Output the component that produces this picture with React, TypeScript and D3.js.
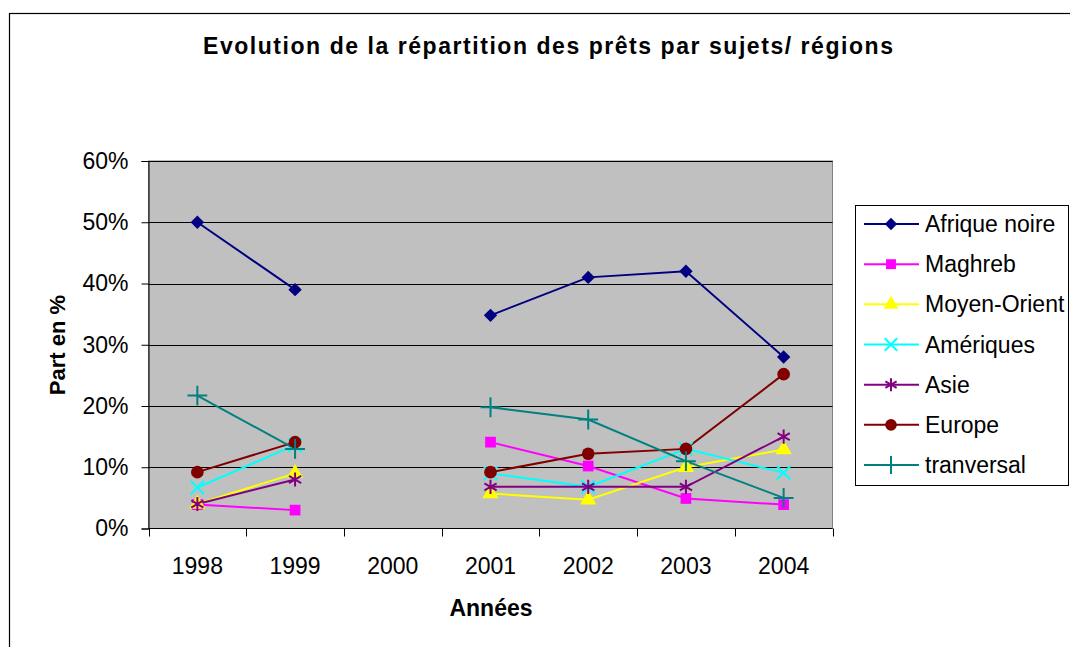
import React, { useEffect, useRef } from 'react';
import * as d3 from 'd3';

const years = ['1998', '1999', '2000', '2001', '2002', '2003', '2004'];
const afriqueNoire = [50, 39, null, 34.8, 41, 42, 28];
const maghreb = [3.9, 3, null, 14.1, 10.2, 4.9, 3.9];
const moyenOrient = [4, 9, null, 5.7, 4.7, 10, 12.9];
const ameriques = [6.7, 13.6, null, 9, 6.8, 13, 9.1];
const asie = [4, 8, null, 6.8, 6.8, 6.8, 15];
const europe = [9.2, 14.1, null, 9.2, 12.2, 13, 25.2];
const tranversal = [21.7, 13, null, 19.8, 17.8, 11, 5];
const yTicks = [0, 10, 20, 30, 40, 50, 60];

// square turned 45 degrees, as Excel draws its diamond marker
const wideDiamond = {
  draw(context: any, size: number) {
    const r = Math.sqrt(size / 2);
    context.moveTo(0, -r);
    context.lineTo(r, 0);
    context.lineTo(0, r);
    context.lineTo(-r, 0);
    context.closePath();
  },
};

const series = [
  { name: 'Afrique noire', values: afriqueNoire, color: '#000080', symbol: wideDiamond, size: 90, fill: true },
  { name: 'Maghreb', values: maghreb, color: '#FF00FF', symbol: d3.symbolSquare, size: 115, fill: true },
  { name: 'Moyen-Orient', values: moyenOrient, color: '#FFFF00', symbol: d3.symbolTriangle, size: 115, fill: true },
  { name: 'Amériques', values: ameriques, color: '#00FFFF', symbol: d3.symbolX, size: 120, fill: false },
  { name: 'Asie', values: asie, color: '#800080', symbol: d3.symbolAsterisk, size: 140, fill: false },
  { name: 'Europe', values: europe, color: '#800000', symbol: d3.symbolCircle, size: 125, fill: true },
  { name: 'tranversal', values: tranversal, color: '#008080', symbol: d3.symbolPlus, size: 130, fill: false },
];

const font = '"Liberation Sans", Arial, sans-serif';

const App = () => {
  const svgRef = useRef<SVGSVGElement>(null);

  useEffect(() => {
    drawChart();
  }, []);

  const drawChart = () => {
    const svg = d3.select(svgRef.current);
    svg.selectAll('*').remove();

    const plot = { left: 148.5, right: 832.5, top: 161, bottom: 528.5 };

    // outer chart border
    svg.append('rect')
      .attr('x', 9.5).attr('y', 13.5)
      .attr('width', 1100).attr('height', 700)
      .attr('fill', '#fff').attr('stroke', '#000').attr('stroke-width', 1.2);

    const x = d3.scaleBand().domain(years).range([plot.left, plot.right]).padding(0);
    const cx = (d: string) => (x(d) as number) + x.bandwidth() / 2;
    const y = d3.scaleLinear().domain([0, 60]).range([plot.bottom, plot.top]);

    svg.append('rect')
      .attr('x', plot.left).attr('y', plot.top)
      .attr('width', plot.right - plot.left).attr('height', plot.bottom - plot.top)
      .attr('fill', '#C0C0C0').attr('stroke', '#808080');

    // gridlines
    svg.append('g')
      .selectAll('line')
      .data(yTicks.filter(t => t > 0))
      .enter()
      .append('line')
      .attr('x1', plot.left).attr('x2', plot.right)
      .attr('y1', d => Math.round(y(d)) + 0.5).attr('y2', d => Math.round(y(d)) + 0.5)
      .attr('stroke', '#000').attr('stroke-width', 1);

    // y axis
    const yAxis = svg.append('g')
      .attr('transform', `translate(${plot.left},0)`)
      .call(d3.axisLeft(y).tickValues(yTicks).tickSize(7).tickPadding(13).tickFormat(d => `${d}%`));
    yAxis.select('.domain').attr('stroke', '#000');
    yAxis.selectAll('text').attr('font-family', font).attr('font-size', 23).attr('fill', '#000');

    // x axis with ticks between categories
    const xAxisG = svg.append('g').attr('transform', `translate(0,${plot.bottom})`);
    xAxisG.append('line')
      .attr('x1', plot.left).attr('x2', plot.right)
      .attr('stroke', '#000');
    const bounds = years.map(d => x(d) as number).concat([plot.right]);
    xAxisG.selectAll('line.tick')
      .data(bounds)
      .enter()
      .append('line')
      .attr('class', 'tick')
      .attr('x1', d => Math.round(d) + 0.5).attr('x2', d => Math.round(d) + 0.5)
      .attr('y1', 0).attr('y2', 8)
      .attr('stroke', '#000');
    xAxisG.selectAll('text')
      .data(years)
      .enter()
      .append('text')
      .attr('x', d => cx(d))
      .attr('y', 45)
      .attr('text-anchor', 'middle')
      .attr('font-family', font).attr('font-size', 23)
      .text(d => d);

    // lines and markers
    const line = d3.line<number | null>()
      .defined(d => d != null)
      .x((d, i) => cx(years[i]))
      .y(d => y(d as number));

    series.forEach(s => {
      svg.append('path')
        .datum(s.values)
        .attr('fill', 'none')
        .attr('stroke', s.color)
        .attr('stroke-width', 2)
        .attr('d', line);
    });

    series.forEach(s => {
      const sym = d3.symbol().type(s.symbol as any).size(s.size);
      svg.append('g')
        .selectAll('path')
        .data(s.values.map((v, i) => ({ v, year: years[i] })).filter(d => d.v != null))
        .enter()
        .append('path')
        .attr('transform', d => `translate(${cx(d.year)},${y(d.v as number)})`)
        .attr('d', sym())
        .attr('fill', s.fill ? s.color : 'none')
        .attr('stroke', s.color)
        .attr('stroke-width', s.fill ? 0 : 2);
    });

    // title and axis titles
    svg.append('text')
      .attr('x', 203).attr('y', 54)
      .attr('textLength', 690)
      .attr('lengthAdjust', 'spacing')
      .attr('font-family', font).attr('font-size', 23).attr('font-weight', 'bold')
      .text('Evolution de la répartition des prêts par sujets/ régions');

    svg.append('text')
      .attr('x', 491).attr('y', 616)
      .attr('text-anchor', 'middle')
      .attr('font-family', font).attr('font-size', 23).attr('font-weight', 'bold')
      .text('Années');

    svg.append('text')
      .attr('transform', 'translate(65,345) rotate(-90)')
      .attr('text-anchor', 'middle')
      .attr('font-family', font).attr('font-size', 22).attr('font-weight', 'bold')
      .text('Part en %');

    // legend
    const legend = svg.append('g');
    legend.append('rect')
      .attr('x', 855.5).attr('y', 205.5)
      .attr('width', 213).attr('height', 280)
      .attr('fill', '#fff').attr('stroke', '#000');

    const ly = d3.scalePoint<string>()
      .domain(series.map(s => s.name))
      .range([224, 465]);

    series.forEach(s => {
      const yy = ly(s.name) as number;
      const sym = d3.symbol().type(s.symbol as any).size(s.size * 0.85);
      legend.append('line')
        .attr('x1', 864).attr('x2', 919)
        .attr('y1', yy).attr('y2', yy)
        .attr('stroke', s.color).attr('stroke-width', 2);
      legend.append('path')
        .attr('transform', `translate(891,${yy})`)
        .attr('d', sym())
        .attr('fill', s.fill ? s.color : 'none')
        .attr('stroke', s.color)
        .attr('stroke-width', s.fill ? 0 : 2);
      legend.append('text')
        .attr('x', 925).attr('y', yy + 8)
        .attr('font-family', font).attr('font-size', 23)
        .text(s.name);
    });
  };

  return (
    <svg
      ref={svgRef}
      width={1070}
      height={647}
      style={{ position: 'absolute', left: 0, top: 0, background: '#fff' }}
    ></svg>
  );
};

export default App;
